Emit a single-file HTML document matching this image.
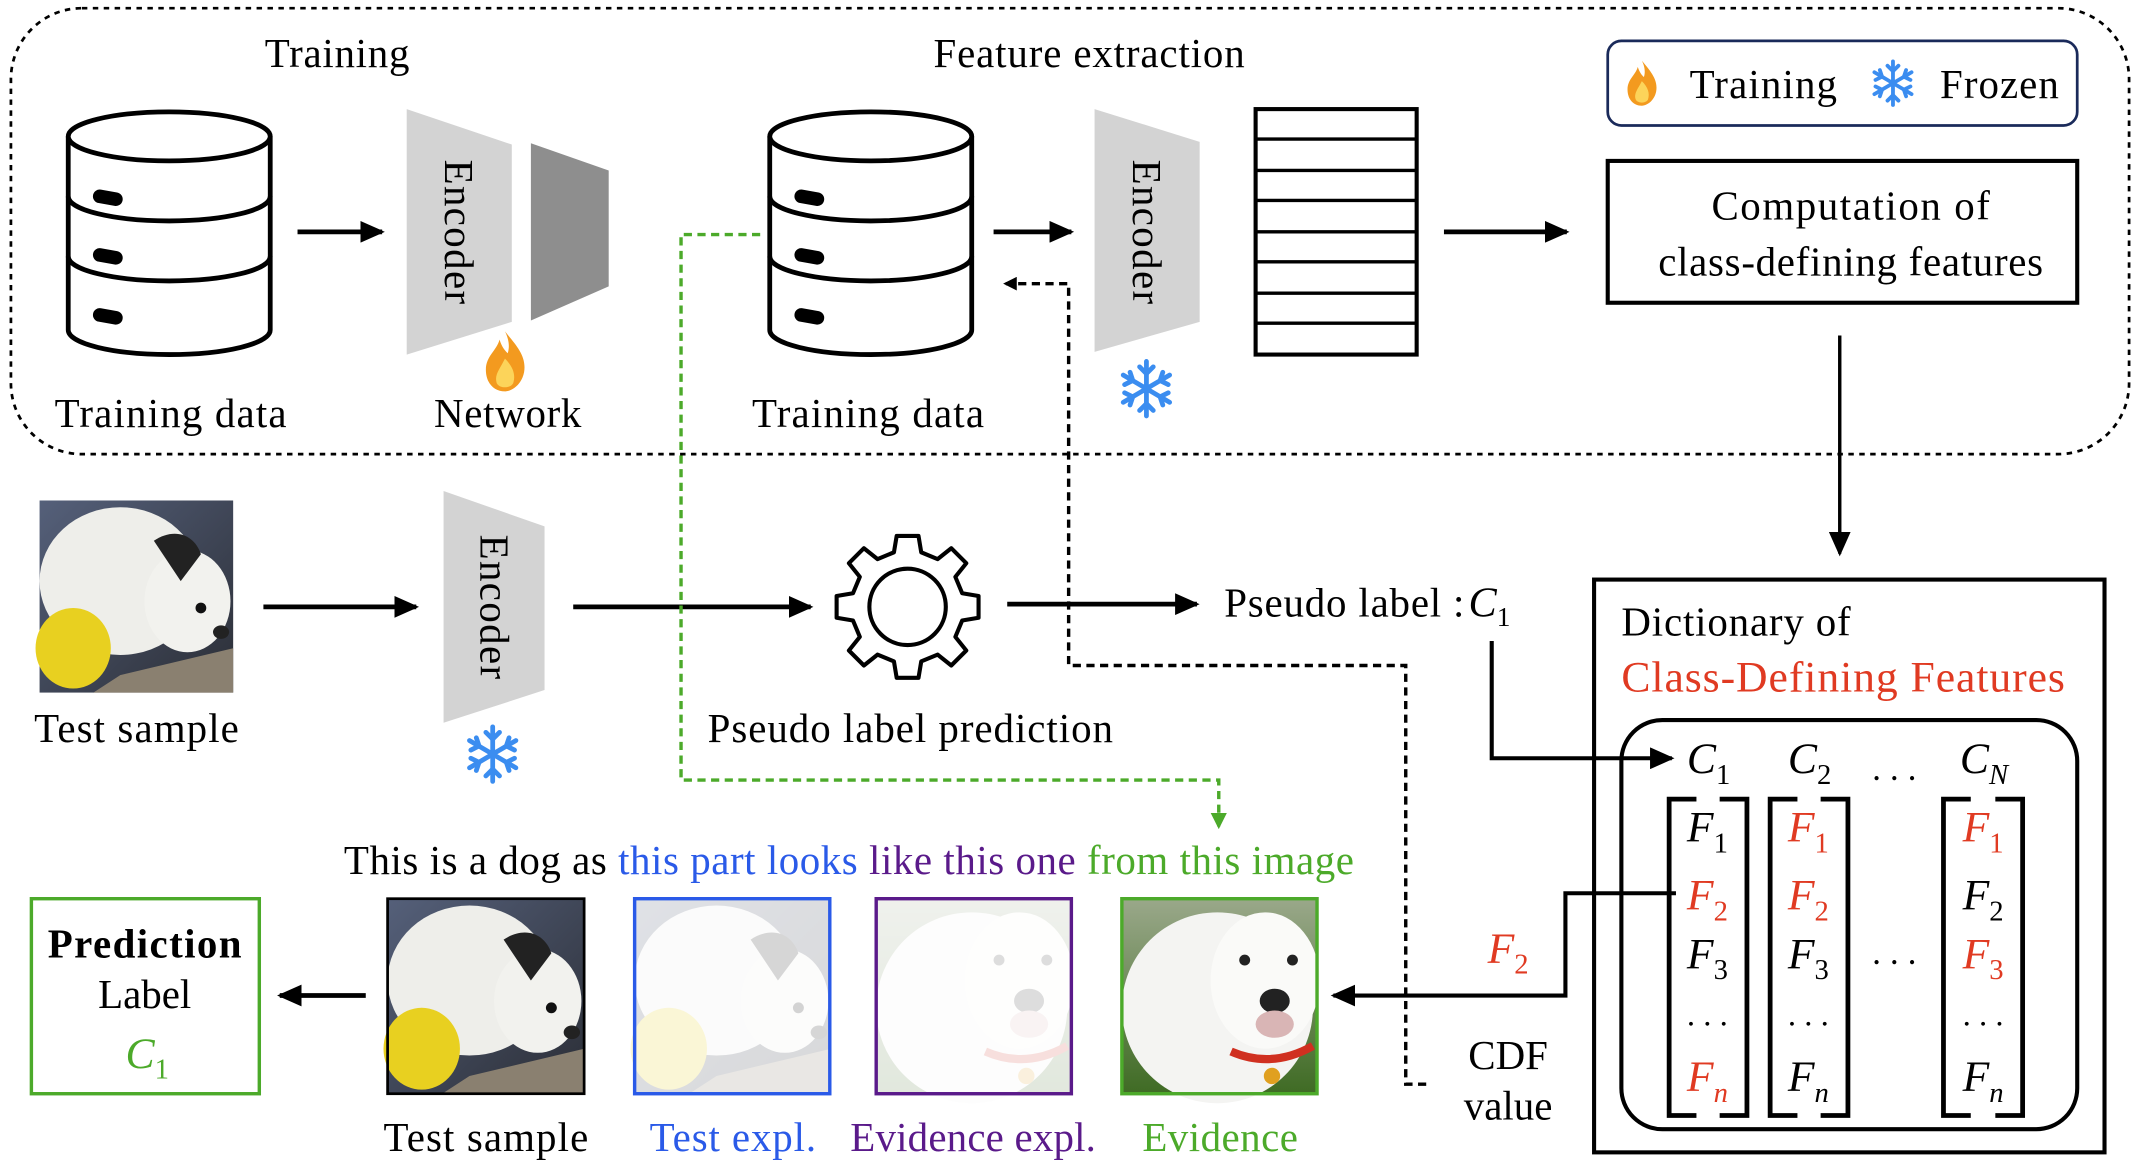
<!DOCTYPE html>
<html><head><meta charset="utf-8"><style>
html,body{margin:0;padding:0;background:#fff;}
svg{display:block;}
text{font-family:"Liberation Serif",serif;}
</style></head><body>
<svg width="2140" height="1166" viewBox="0 0 1568 855" preserveAspectRatio="none" xmlns="http://www.w3.org/2000/svg">
<defs>
<marker id="ah" markerWidth="10" markerHeight="10" refX="8" refY="5" orient="auto" markerUnits="userSpaceOnUse"><path d="M0,0 L10,5 L0,10 z" fill="#000"/></marker>
<marker id="ah2" markerWidth="18" markerHeight="16" refX="16" refY="8" orient="auto" markerUnits="userSpaceOnUse"><path d="M0,0 L18,8 L0,16 z" fill="#000"/></marker>
<marker id="ahg" markerWidth="12" markerHeight="12" refX="10" refY="6" orient="auto" markerUnits="userSpaceOnUse"><path d="M0,0 L12,6 L0,12 z" fill="#4caa2a"/></marker>
<g id="db">
<path d="M0,18 V160 A74,18 0 0 0 148,160 V18" fill="#fff" stroke="#000" stroke-width="3.5"/>
<ellipse cx="74" cy="18" rx="74" ry="18" fill="#fff" stroke="#000" stroke-width="3.5"/>
<path d="M0,62 A74,18 0 0 0 148,62 M0,106 A74,18 0 0 0 148,106" fill="none" stroke="#000" stroke-width="3.5"/>
<rect x="18" y="58" width="22" height="10" rx="5" transform="rotate(10 29 63)"/>
<rect x="18" y="101" width="22" height="10" rx="5" transform="rotate(10 29 106)"/>
<rect x="18" y="145" width="22" height="10" rx="5" transform="rotate(10 29 150)"/>
</g>
<g id="snow" stroke="#3b8df0" stroke-width="3.5" stroke-linecap="round" fill="none">
<path d="M0,-20 V20 M-17,-10 L17,10 M-17,10 L17,-10"/>
<path d="M-5,-16 L0,-11 L5,-16 M-5,16 L0,11 L5,16 M-16,-3 L-10,-6 L-12,-12 M16,3 L10,6 L12,12 M-16,3 L-10,6 L-12,12 M16,-3 L10,-6 L12,-12"/>
</g>
<g id="flame">
<path d="M0,-22 C8,-12 16,-4 14,8 C12,18 4,22 0,22 C-8,22 -14,16 -14,6 C-14,-4 -6,-8 -4,-16 C-2,-10 0,-8 2,-6 C4,-12 2,-18 0,-22 z" fill="#f39a1f"/>
<path d="M0,-2 C6,4 8,10 6,16 C4,20 -4,20 -6,16 C-8,10 -4,6 0,-2 z" fill="#fcd45a"/>
</g>
<linearGradient id="dogbg" x1="0" y1="0" x2="1" y2="1"><stop offset="0" stop-color="#55607a"/><stop offset="1" stop-color="#2b2e36"/></linearGradient>
<linearGradient id="grass" x1="0" y1="0" x2="0" y2="1"><stop offset="0" stop-color="#9aa88a"/><stop offset="1" stop-color="#3f6b24"/></linearGradient>
<g id="puppy">
<rect width="144" height="143" fill="url(#dogbg)"/>
<ellipse cx="60" cy="60" rx="60" ry="55" fill="#eeeeea"/>
<ellipse cx="110" cy="75" rx="32" ry="38" fill="#f2f2ee"/>
<path d="M85,30 C100,20 115,25 120,40 L105,60 z" fill="#222"/>
<circle cx="120" cy="80" r="4" fill="#111"/><ellipse cx="135" cy="98" rx="6" ry="5" fill="#222"/>
<ellipse cx="25" cy="110" rx="28" ry="30" fill="#e8d020"/>
<path d="M60,130 L144,110 L144,143 L40,143 z" fill="#8a8070"/>
</g>
<g id="boxer">
<rect width="144" height="143" fill="url(#grass)"/>
<ellipse cx="70" cy="80" rx="70" ry="70" fill="#f4f4f2"/>
<ellipse cx="105" cy="60" rx="40" ry="50" fill="#fafaf8"/>
<circle cx="90" cy="45" r="4" fill="#222"/><circle cx="125" cy="45" r="4" fill="#222"/>
<ellipse cx="112" cy="75" rx="11" ry="9" fill="#222"/>
<ellipse cx="112" cy="92" rx="14" ry="10" fill="#d9b5b5"/>
<path d="M80,112 Q110,125 140,108" stroke="#d03020" stroke-width="6" fill="none"/>
<circle cx="110" cy="130" r="6" fill="#e0a020"/>
</g>
</defs>

<rect x="8" y="6" width="1552" height="327" rx="52" fill="none" stroke="#000" stroke-width="2" stroke-dasharray="4,4"/>

<g font-size="30" text-anchor="middle">
<text x="247" y="49" textLength="106">Training</text>
<text x="798" y="49" textLength="228">Feature extraction</text>
<text x="125" y="313" textLength="170">Training data</text>
<text x="372" y="313" textLength="108">Network</text>
<text x="636" y="313" textLength="170">Training data</text>
</g>

<rect x="1178" y="30" width="344" height="62" rx="10" fill="none" stroke="#1a2a5a" stroke-width="2"/>
<use href="#flame" transform="translate(1203,61) scale(0.75)"/>
<text x="1292" y="72" font-size="30" text-anchor="middle" textLength="108">Training</text>
<use href="#snow" transform="translate(1387,61) scale(0.8)"/>
<text x="1465" y="72" font-size="30" text-anchor="middle" textLength="87">Frozen</text>

<rect x="1178" y="118" width="344" height="104" fill="none" stroke="#000" stroke-width="3"/>
<text x="1356" y="161" font-size="30" text-anchor="middle" textLength="204">Computation of</text>
<text x="1356" y="202" font-size="30" text-anchor="middle" textLength="282">class-defining features</text>

<use href="#db" transform="translate(50,82)"/>
<use href="#db" transform="translate(564,82)"/>

<g stroke="#000" stroke-width="3.5" fill="none">
<line x1="218" y1="170" x2="280" y2="170" marker-end="url(#ah2)"/>
<line x1="728" y1="170" x2="785" y2="170" marker-end="url(#ah2)"/>
<line x1="1058" y1="170" x2="1148" y2="170" marker-end="url(#ah2)"/>
<line x1="193" y1="445" x2="305" y2="445" marker-end="url(#ah2)"/>
<line x1="420" y1="445" x2="594" y2="445" marker-end="url(#ah2)"/>
<line x1="738" y1="443" x2="877" y2="443" marker-end="url(#ah2)"/>
<line x1="268" y1="730" x2="205" y2="730" marker-end="url(#ah2)"/>
</g>
<line x1="1348" y1="246" x2="1348" y2="406" stroke="#000" stroke-width="2.5" marker-end="url(#ah2)"/>

<polygon points="298,80 375,106 375,236 298,260" fill="#d3d3d3"/>
<polygon points="389,105 446,125 446,210 389,235" fill="#8e8e8e"/>
<polygon points="802,80 879,104 879,236 802,258" fill="#d3d3d3"/>
<polygon points="325,360 399,386 399,506 325,530" fill="#d3d3d3"/>
<g font-size="30" text-anchor="middle">
<text transform="translate(326,170) rotate(90)" textLength="106">Encoder</text>
<text transform="translate(830,170) rotate(90)" textLength="106">Encoder</text>
<text transform="translate(352,445) rotate(90)" textLength="106">Encoder</text>
</g>
<use href="#flame" transform="translate(370,265)"/>
<use href="#snow" transform="translate(840,285)"/>
<use href="#snow" transform="translate(361,553)"/>

<rect x="920" y="80" width="118" height="180" fill="#fff" stroke="#000" stroke-width="3"/>
<g stroke="#000" stroke-width="2.5">
<line x1="920" y1="102" x2="1038" y2="102"/><line x1="920" y1="125" x2="1038" y2="125"/>
<line x1="920" y1="147" x2="1038" y2="147"/><line x1="920" y1="170" x2="1038" y2="170"/>
<line x1="920" y1="192" x2="1038" y2="192"/><line x1="920" y1="215" x2="1038" y2="215"/>
<line x1="920" y1="237" x2="1038" y2="237"/>
</g>

<polyline points="557,172 499,172 499,572 893,572 893,606" fill="none" stroke="#4caa2a" stroke-width="2.5" stroke-dasharray="6,4" marker-end="url(#ahg)"/>
<polyline points="1045,795 1030,795 1030,488 783,488 783,208 737,208" fill="none" stroke="#000" stroke-width="2.5" stroke-dasharray="6,4" marker-end="url(#ah)"/>

<use href="#puppy" transform="translate(29,367) scale(0.985)"/>
<text x="100" y="544" font-size="30" text-anchor="middle" textLength="150">Test sample</text>

<g transform="translate(665,445)">
<path d="M-8,-52 H8 L10,-40 L22,-35 L32,-43 L43,-32 L35,-22 L40,-10 L52,-8 V8 L40,10 L35,22 L43,32 L32,43 L22,35 L10,40 L8,52 H-8 L-10,40 L-22,35 L-32,43 L-43,32 L-35,22 L-40,10 L-52,8 V-8 L-40,-10 L-35,-22 L-43,-32 L-32,-43 L-22,-35 L-10,-40 z" fill="#fff" stroke="#000" stroke-width="3" stroke-linejoin="round"/>
<circle r="28" fill="none" stroke="#000" stroke-width="3"/>
</g>
<text x="667" y="544" font-size="30" text-anchor="middle" textLength="297">Pseudo label prediction</text>
<text x="897" y="452" font-size="30" textLength="176">Pseudo label : </text>
<text x="1076" y="452" font-size="31" font-style="italic">C<tspan font-size="20" font-style="normal" dy="7">1</tspan></text>

<polyline points="1093,470 1093,556 1225,556" fill="none" stroke="#000" stroke-width="3" marker-end="url(#ah2)"/>

<rect x="1168" y="425" width="374" height="420" fill="none" stroke="#000" stroke-width="3"/>
<text x="1188" y="466" font-size="30" textLength="168">Dictionary of</text>
<text x="1188" y="507" font-size="32" fill="#e03a22" textLength="325">Class-Defining Features</text>
<rect x="1188" y="528" width="334" height="300" rx="30" fill="none" stroke="#000" stroke-width="3"/>

<g font-size="32" font-style="italic">
<text x="1236" y="567">C<tspan font-size="21" font-style="normal" dy="8">1</tspan></text>
<text x="1310" y="567">C<tspan font-size="21" font-style="normal" dy="8">2</tspan></text>
<text x="1436" y="567">C<tspan font-size="21" dy="8">N</tspan></text>
</g>
<text x="1388" y="572" font-size="26" text-anchor="middle">. . .</text>
<text x="1388" y="707" font-size="26" text-anchor="middle">. . .</text>

<g fill="none" stroke="#000" stroke-width="3.5">
<path d="M1243,586 H1223 V818 H1243 M1260,586 H1280 V818 H1260"/>
<path d="M1317,586 H1297 V818 H1317 M1334,586 H1354 V818 H1334"/>
<path d="M1444,586 H1424 V818 H1444 M1462,586 H1482 V818 H1462"/>
</g>
<g font-size="32" font-style="italic">
<text x="1236" y="617">F<tspan font-size="21" font-style="normal" dy="8">1</tspan></text>
<text x="1236" y="667" fill="#e03a22">F<tspan font-size="21" font-style="normal" dy="8">2</tspan></text>
<text x="1236" y="710">F<tspan font-size="21" font-style="normal" dy="8">3</tspan></text>
<text x="1236" y="800" fill="#e03a22">F<tspan font-size="21" dy="8">n</tspan></text>
<text x="1310" y="617" fill="#e03a22">F<tspan font-size="21" font-style="normal" dy="8">1</tspan></text>
<text x="1310" y="667" fill="#e03a22">F<tspan font-size="21" font-style="normal" dy="8">2</tspan></text>
<text x="1310" y="710">F<tspan font-size="21" font-style="normal" dy="8">3</tspan></text>
<text x="1310" y="800">F<tspan font-size="21" dy="8">n</tspan></text>
<text x="1438" y="617" fill="#e03a22">F<tspan font-size="21" font-style="normal" dy="8">1</tspan></text>
<text x="1438" y="667">F<tspan font-size="21" font-style="normal" dy="8">2</tspan></text>
<text x="1438" y="710" fill="#e03a22">F<tspan font-size="21" font-style="normal" dy="8">3</tspan></text>
<text x="1438" y="800">F<tspan font-size="21" dy="8">n</tspan></text>
</g>
<g font-size="24" text-anchor="middle">
<text x="1251" y="752">. . .</text><text x="1325" y="752">. . .</text><text x="1453" y="752">. . .</text>
</g>

<polyline points="1228,655 1147,655 1147,730 977,730" fill="none" stroke="#000" stroke-width="3" marker-end="url(#ah2)"/>
<text x="1090" y="706" font-size="32" font-style="italic" fill="#e03a22">F<tspan font-size="21" font-style="normal" dy="8">2</tspan></text>
<text x="1105" y="784" font-size="30" text-anchor="middle">CDF</text>
<text x="1105" y="821" font-size="30" text-anchor="middle">value</text>

<text x="252" y="641" font-size="30" textLength="740">This is a dog as <tspan fill="#2a5ae8">this part looks</tspan> <tspan fill="#5a1a8a">like this one</tspan> <tspan fill="#4caa2a">from this image</tspan></text>

<rect x="23" y="659" width="167" height="143" fill="#fff" stroke="#4caa2a" stroke-width="2.5"/>
<text x="106" y="702" font-size="30" font-weight="bold" text-anchor="middle" textLength="142">Prediction</text>
<text x="106" y="739" font-size="30" text-anchor="middle">Label</text>
<text x="92" y="783" font-size="32" font-style="italic" fill="#4caa2a">C<tspan font-size="21" font-style="normal" dy="8">1</tspan></text>

<use href="#puppy" transform="translate(284,659)"/>
<rect x="284" y="659" width="144" height="143" fill="none" stroke="#000" stroke-width="2"/>
<g opacity="0.18"><use href="#puppy" transform="translate(465,659)"/></g>
<rect x="465" y="659" width="143" height="143" fill="none" stroke="#2a5ae8" stroke-width="2.5"/>
<g opacity="0.15"><use href="#boxer" transform="translate(642,659)"/></g>
<rect x="642" y="659" width="143" height="143" fill="none" stroke="#5a1a8a" stroke-width="2.5"/>
<use href="#boxer" transform="translate(822,659)"/>
<rect x="822" y="659" width="143" height="143" fill="none" stroke="#4caa2a" stroke-width="2.5"/>

<g font-size="30" text-anchor="middle">
<text x="356" y="844" textLength="150">Test sample</text>
<text x="537" y="844" fill="#2a5ae8" textLength="122">Test expl.</text>
<text x="713" y="844" fill="#5a1a8a" textLength="180">Evidence expl.</text>
<text x="894" y="844" fill="#4caa2a" textLength="114">Evidence</text>
</g>
</svg>
</body></html>
